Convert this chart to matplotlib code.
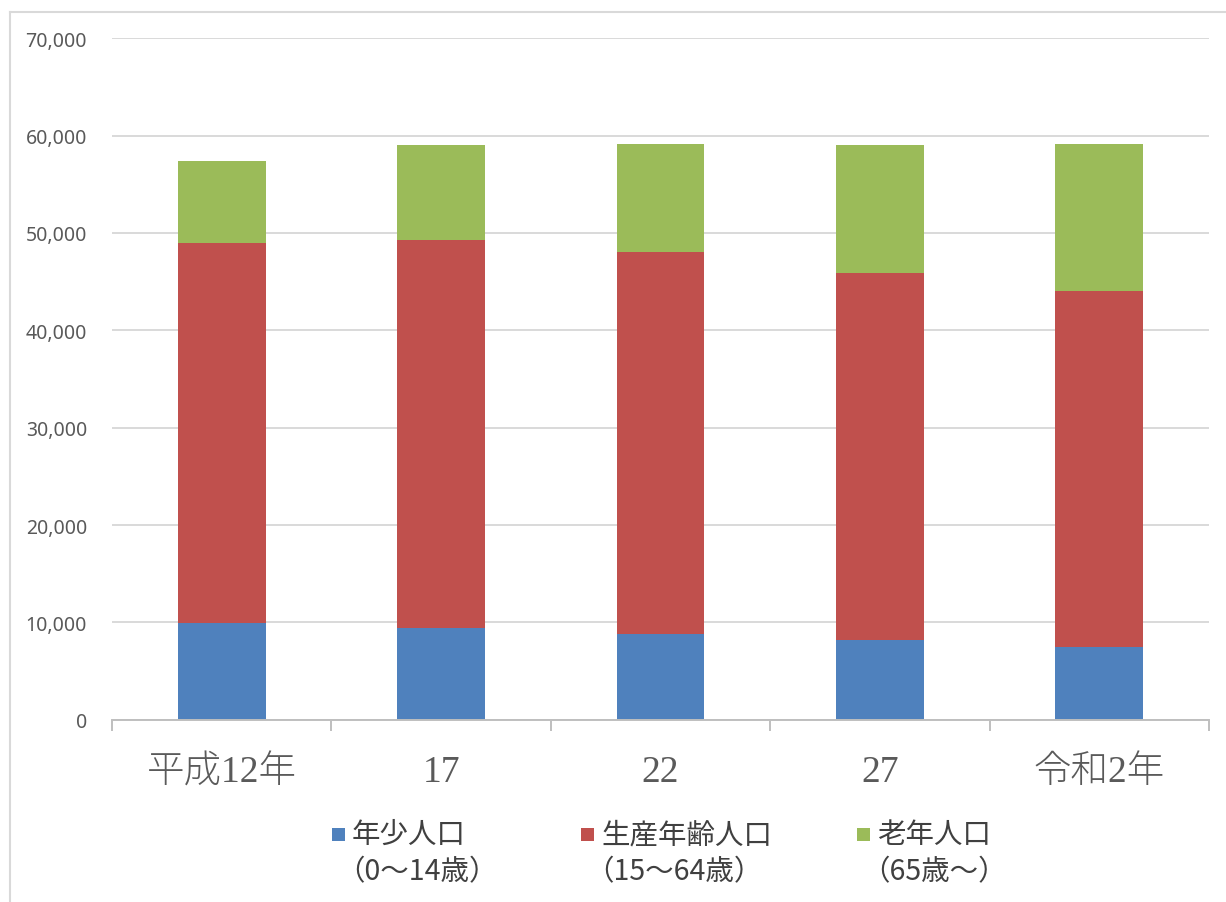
import numpy as np
import matplotlib
matplotlib.use("Agg")
import matplotlib.pyplot as plt
from matplotlib.patches import Rectangle
from matplotlib.lines import Line2D
from matplotlib.ticker import FuncFormatter

# data
years = ["平成12年", "17", "22", "27", "令和2年"]
young = [9960, 9470, 8840, 8210, 7510]        # 年少人口
working = [39060, 39790, 39230, 37670, 36510]  # 生産年齢人口
elderly = [8340, 9800, 11080, 13180, 15140]    # 老年人口

series_names = ["年少人口", "生産年齢人口", "老年人口"]
series_ages = ["（0～14歳）", "（15～64歳）", "（65歳～）"]
colors = ["#4F81BD", "#C0504D", "#9BBB59"]

W, H = 1226, 903
fig = plt.figure(figsize=(W / 100, H / 100), dpi=100)


# pixel position (from top left) -> figure fraction
def px(x, y):
    return x / W, 1 - y / H


ax = fig.add_axes([112 / W, 1 - 720.7 / H, (1209 - 112) / W, (720.7 - 39.3) / H])

x = np.arange(len(years))
bottom = np.zeros(len(years))
for vals, c in zip([young, working, elderly], colors):
    ax.bar(x, vals, width=0.4, bottom=bottom, color=c, zorder=3)
    bottom += np.array(vals)

ax.set_xlim(-0.5, len(years) - 0.5)
ax.set_ylim(0, 70000)
ax.set_yticks(np.arange(0, 70001, 10000))
ax.yaxis.set_major_formatter(FuncFormatter(lambda v, p: f"{int(v):,}"))
ax.grid(axis="y", color="#D9D9D9", linewidth=1.4, zorder=0)

for s in ["top", "right", "left"]:
    ax.spines[s].set_visible(False)
ax.spines["bottom"].set_color("#BFBFBF")
ax.spines["bottom"].set_linewidth(1.4)
ax.spines["bottom"].set_zorder(4)

ax.tick_params(axis="y", length=0, pad=18, labelcolor="#595959")
for lab in ax.get_yticklabels():
    lab.set_family("Noto Sans")
    lab.set_fontsize(14)

ax.set_xticks(x)
ax.set_xticklabels(years)
ax.set_xticks(np.arange(-0.5, len(years)), minor=True)
ax.tick_params(axis="x", which="major", length=0, pad=25, labelcolor="#5a5a5a")
ax.tick_params(axis="x", which="minor", length=8, width=1.4, color="#BFBFBF")
for lab in ax.get_xticklabels():
    lab.set_family(["Liberation Serif", "Noto Sans CJK JP"])
    lab.set_fontsize(27)
    lab.set_fontweight("light")

# legend, drawn by hand so the marker sits on the first text line
legend_x = [332, 581, 857]
for name, ages, c, lx in zip(series_names, series_ages, colors, legend_x):
    fig.add_artist(Rectangle(px(lx, 842), 13 / W, 13 / H, transform=fig.transFigure,
                             color=c, lw=0))
    fig.text(*px(lx + 20, 835), name, family=["Noto Sans CJK JP"], fontsize=20.5,
             color="#404040", va="center", ha="left")
    fig.text(*px(lx + 4, 872), ages, family=["Noto Sans CJK JP"], fontsize=20.5,
             color="#404040", va="center", ha="left")

# outer frame (only top and left edges visible in the reference)
fig.add_artist(Line2D([10 / W, 10 / W], [0, 1 - 13 / H], transform=fig.transFigure,
                      color="#D9D9D9", lw=1.5))
fig.add_artist(Line2D([10 / W, 1], [1 - 13 / H, 1 - 13 / H], transform=fig.transFigure,
                      color="#D9D9D9", lw=1.5))

fig.savefig("out.png", dpi=100)
